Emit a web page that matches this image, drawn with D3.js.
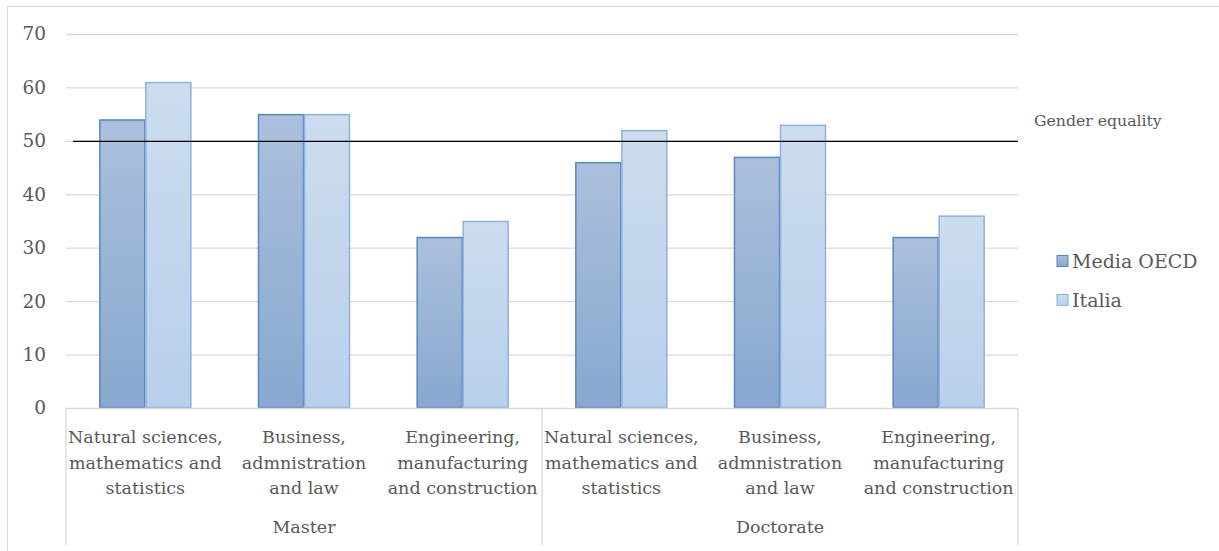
<!DOCTYPE html>
<html>
<head>
<meta charset="utf-8">
<script src="https://cdn.jsdelivr.net/npm/d3@7"></script>
<style>
  body { margin: 0; background: #fff; }
</style>
</head>
<body>
<svg width="1219" height="551"></svg>
<script>
const groups = ["Master", "Doctorate"];
const fields = [
  ["Natural sciences,", "mathematics and", "statistics"],
  ["Business,", "admnistration", "and law"],
  ["Engineering,", "manufacturing", "and construction"]
];
const seriesNames = ["Media OECD", "Italia"];
const oecdValues = [54, 55, 32, 46, 47, 32];
const italiaValues = [61, 55, 35, 52, 53, 36];
const yTicks = [0, 10, 20, 30, 40, 50, 60, 70];
const equalityLevel = 50;

const plotLeft = 66, plotRight = 1018, plotTop = 34, plotBottom = 408;
const serif = "DejaVu Serif, serif";
const labelSize = "17.5px";

const svg = d3.select("svg")
    .attr("font-family", serif);

// gradients for bars
const defs = svg.append("defs");
const grads = [["gOecd", "#abc0dc", "#88a8d0"], ["gItalia", "#cddcef", "#b8cfeb"]];
grads.forEach(function(g) {
  const lg = defs.append("linearGradient").attr("id", g[0])
      .attr("x1", 0).attr("y1", 0).attr("x2", 0).attr("y2", 1);
  lg.append("stop").attr("offset", "0%").attr("stop-color", g[1]);
  lg.append("stop").attr("offset", "100%").attr("stop-color", g[2]);
});

// outer frame
svg.append("rect")
    .attr("x", 7.5).attr("y", 6.5)
    .attr("width", 1230).attr("height", 560)
    .attr("fill", "none").attr("stroke", "#d9d9d9");

const cats = [];
groups.forEach(function(g, gi) {
  fields.forEach(function(f, fi) { cats.push({group: g, label: f, i: gi * 3 + fi}); });
});

const x0 = d3.scaleBand().domain(cats.map(d => d.i)).range([plotLeft, plotRight]).padding(0);
const bw = x0.bandwidth();
const x1 = d3.scaleBand().domain(seriesNames).range([bw * 0.21, bw * 0.79]).padding(0);
const y = d3.scaleLinear().domain([0, 70]).range([plotBottom, plotTop]);

// gridlines
svg.append("g").selectAll("line")
    .data(yTicks.filter(t => t > 0))
    .enter().append("line")
    .attr("x1", plotLeft).attr("x2", plotRight)
    .attr("y1", d => y(d) + 0.5).attr("y2", d => y(d) + 0.5)
    .attr("stroke", "#d9d9d9").attr("stroke-width", 1.3);

// y labels
svg.append("g").selectAll("text")
    .data(yTicks)
    .enter().append("text")
    .attr("x", 46).attr("y", d => y(d))
    .attr("dy", "0.35em")
    .attr("text-anchor", "end")
    .attr("fill", "#595959")
    .style("font-size", "18.5px")
    .text(d => d);

// bars
const bars = svg.append("g");
cats.forEach(function(c) {
  const vals = [oecdValues[c.i], italiaValues[c.i]];
  bars.selectAll(".b" + c.i)
      .data(vals)
      .enter().append("rect")
      .attr("x", (d, k) => x0(c.i) + x1(seriesNames[k]) + 0.5)
      .attr("y", d => y(d) + 0.5)
      .attr("width", x1.bandwidth() - 1)
      .attr("height", d => y(0) - y(d) - 1)
      .attr("fill", (d, k) => k === 0 ? "url(#gOecd)" : "url(#gItalia)")
      .attr("stroke", (d, k) => k === 0 ? "#5b87c0" : "#8fb1de")
      .attr("stroke-width", 1.5);
});

// category axis
const axis = svg.append("g").attr("stroke", "#d9d9d9").attr("stroke-width", 1.3);
axis.append("line").attr("x1", plotLeft).attr("x2", plotRight).attr("y1", plotBottom + 0.5).attr("y2", plotBottom + 0.5);
[0, 3, 6].forEach(function(k) {
  const xx = k < 6 ? x0(k) : plotRight;
  axis.append("line").attr("x1", xx).attr("x2", xx).attr("y1", plotBottom).attr("y2", 545);
});

// category labels
cats.forEach(function(c) {
  const t = svg.append("text")
      .attr("x", x0(c.i) + bw / 2)
      .attr("y", 444)
      .attr("text-anchor", "middle")
      .attr("fill", "#595959")
      .style("font-size", labelSize);
  c.label.forEach(function(line, li) {
    t.append("tspan").attr("x", x0(c.i) + bw / 2).attr("y", 443 + li * 25.5).text(line);
  });
});

// group labels
groups.forEach(function(g, gi) {
  svg.append("text")
      .attr("x", (x0(gi * 3) + x0(gi * 3 + 2) + bw) / 2)
      .attr("y", 533)
      .attr("text-anchor", "middle")
      .attr("fill", "#595959")
      .style("font-size", labelSize)
      .text(g);
});

// gender equality line
svg.append("line")
    .attr("x1", 73).attr("x2", plotRight)
    .attr("y1", y(equalityLevel) + 0.5).attr("y2", y(equalityLevel) + 0.5)
    .attr("stroke", "#000").attr("stroke-width", 1.3);
svg.append("text")
    .attr("x", 1034).attr("y", 126)
    .attr("fill", "#595959")
    .style("font-size", "15.7px")
    .text("Gender equality");

// legend
const legend = svg.append("g");
seriesNames.forEach(function(s, k) {
  const ly = 261 + k * 39;
  legend.append("rect")
      .attr("x", 1057).attr("y", ly - 5.5)
      .attr("width", 11).attr("height", 11)
      .attr("fill", k === 0 ? "url(#gOecd)" : "url(#gItalia)")
      .attr("stroke", k === 0 ? "#5b87c0" : "#8fb1de");
  legend.append("text")
      .attr("x", 1072).attr("y", ly)
      .attr("dy", "0.35em")
      .attr("fill", "#595959")
      .style("font-size", "19px")
      .text(s);
});
</script>
</body>
</html>
